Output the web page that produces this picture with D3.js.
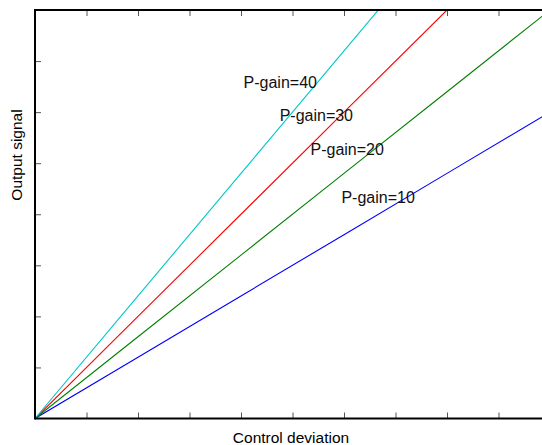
<!DOCTYPE html>
<html>
<head>
<meta charset="utf-8">
<script src="https://cdn.jsdelivr.net/npm/d3@7"></script>
<style>
  body { margin: 0; background: #fff; }
  svg { display: block; font-family: "Liberation Sans", Arial, sans-serif; }
</style>
</head>
<body>
<div id="chart"></div>
<script>
// data (x in axis units, y in axis units)
var gains = ["P-gain=10", "P-gain=20", "P-gain=30", "P-gain=40"];
var colors = ["#0000ff", "#008000", "#ff0000", "#00c8c8"];
var xValues = [0, 2, 4, 6, 8, 10];
var yGain10 = [0, 1.2, 2.4, 3.6, 4.8, 6.0];
var yGain20 = [0, 1.6, 3.2, 4.8, 6.4, 8.0];
var yGain30 = [0, 2.0, 4.0, 6.0, 8.0, 10.0];
var yGain40 = [0, 2.4, 4.8, 7.2, 9.6, 12.0];
var xTicks = [1, 2, 3, 4, 5, 6, 7, 8, 9];
var yTicks = [1, 2, 3, 4, 5, 6, 7];
// label anchor positions in data units
var labelX = [5.95, 5.35, 4.75, 4.05];
var labelY = [4.22, 5.17, 5.83, 6.48];

var width = 542, height = 445;
var margin = {top: 10, right: -8, bottom: 26, left: 35};

var svg = d3.select("#chart")
  .append("svg")
    .attr("width", width)
    .attr("height", height);

var x = d3.scaleLinear().domain([0, 10]).range([margin.left, width - margin.right]);
var y = d3.scaleLinear().domain([0, 8]).range([height - margin.bottom - 0.5, margin.top]);

svg.append("clipPath").attr("id", "clip")
  .append("rect")
    .attr("x", x(0)).attr("y", y(8))
    .attr("width", x(10) - x(0)).attr("height", y(0) - y(8));

var series = [yGain10, yGain20, yGain30, yGain40];

var line = d3.line()
  .x(function(d, i) { return x(xValues[i]); })
  .y(function(d) { return y(d); });

svg.append("g").attr("clip-path", "url(#clip)")
  .selectAll("path")
  .data(series)
  .enter()
  .append("path")
    .attr("d", function(d) { return line(d); })
    .attr("fill", "none")
    .attr("stroke", function(d, i) { return colors[i]; })
    .attr("stroke-width", 1.1);

// ticks, pointing inward
var tickLen = 6;
svg.append("g")
  .attr("transform", "translate(0," + y(0) + ")")
  .call(d3.axisBottom(x).tickValues(xTicks).tickSize(-tickLen).tickFormat(""))
  .call(function(g) { g.select(".domain").remove(); })
  .selectAll("line").attr("stroke", "#555");
svg.append("g")
  .attr("transform", "translate(0," + y(8) + ")")
  .call(d3.axisTop(x).tickValues(xTicks).tickSize(-tickLen).tickFormat(""))
  .call(function(g) { g.select(".domain").remove(); })
  .selectAll("line").attr("stroke", "#555");
svg.append("g")
  .attr("transform", "translate(" + x(0) + ",0)")
  .call(d3.axisLeft(y).tickValues(yTicks).tickSize(-tickLen).tickFormat(""))
  .call(function(g) { g.select(".domain").remove(); })
  .selectAll("line").attr("stroke", "#555");

// frame lines
svg.append("line")
  .attr("x1", x(0)).attr("x2", x(10)).attr("y1", y(0)).attr("y2", y(0))
  .attr("stroke", "#000").attr("stroke-width", 2);
svg.append("line")
  .attr("x1", x(0)).attr("x2", x(10)).attr("y1", y(8)).attr("y2", y(8))
  .attr("stroke", "#000").attr("stroke-width", 2);
svg.append("line")
  .attr("x1", x(0)).attr("x2", x(0)).attr("y1", y(0) + 1).attr("y2", y(8) - 1)
  .attr("stroke", "#000").attr("stroke-width", 2);

// series labels
svg.selectAll(".glabel")
  .data(gains)
  .enter()
  .append("text")
    .attr("class", "glabel")
    .attr("x", function(d, i) { return x(labelX[i]); })
    .attr("y", function(d, i) { return y(labelY[i]); })
    .attr("font-size", 16)
    .attr("fill", "#111")
    .text(function(d) { return d; });

// axis titles
svg.append("text")
  .attr("text-anchor", "middle")
  .attr("x", 291)
  .attr("y", 443)
  .attr("font-size", 15.5)
  .text("Control deviation");

svg.append("text")
  .attr("text-anchor", "middle")
  .attr("transform", "translate(22,155)rotate(-90)")
  .attr("font-size", 15.5)
  .text("Output signal");
</script>
</body>
</html>
